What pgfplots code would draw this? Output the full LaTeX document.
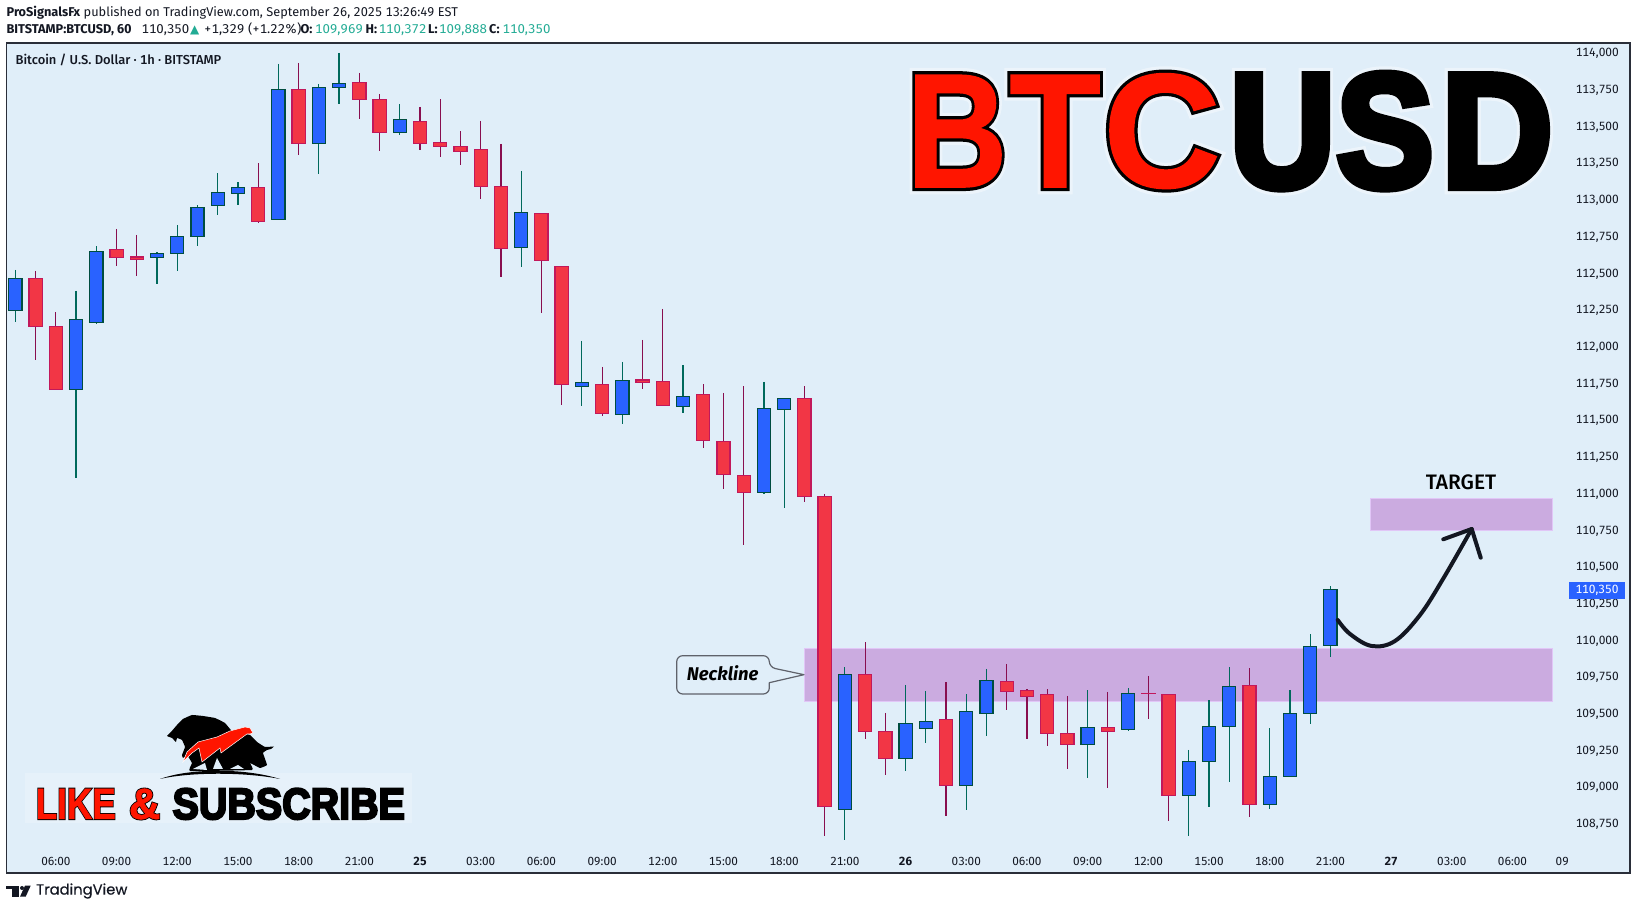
\documentclass[border=0pt]{standalone}
\usepackage{fontspec}
\usepackage{pgfplots}
\pgfplotsset{compat=1.18}
\setmainfont[Numbers=Monospaced]{Fira Sans}
\newfontfamily\medfont[Numbers=Monospaced]{Fira Sans Medium}
\newfontfamily\widefont[Numbers=Monospaced,FakeStretch=1.04]{Fira Sans}
\newfontfamily\symfont{DejaVu Sans}
\newfontfamily\tvfont[FakeBold=.4]{Poppins}
\newfontfamily\heavy[FakeBold=1]{Liberation Sans Bold}
\newfontfamily\heavyb[FakeBold=5]{Liberation Sans Bold}
\newfontfamily\heavyg[FakeBold=9]{Liberation Sans Bold}

\definecolor{bgc}{HTML}{E0EEF9}
\definecolor{frame}{HTML}{2A2E39}
\definecolor{ink}{HTML}{131722}
\definecolor{upfill}{HTML}{2962FF}
\definecolor{upedge}{HTML}{004D40}
\definecolor{upwick}{HTML}{00695C}
\definecolor{dnfill}{HTML}{F23645}
\definecolor{dnedge}{HTML}{C2185B}
\definecolor{dnwick}{HTML}{880E4F}
\definecolor{zone}{HTML}{CBABE0}
\definecolor{zoneedge}{HTML}{E1C6F7}
\definecolor{quote}{HTML}{22AB94}
\definecolor{bigred}{HTML}{FF1500}

% one candle: index, high, body top, body bottom, low
\newcommand{\candle}[8]{%
  \pgfmathsetmacro\cxl{#1-0.325}\pgfmathsetmacro\cxr{#1+0.325}%
  \addplot[draw=#6, line width=1.2bp] coordinates {(#1,#2)(#1,#5)};
  \addplot[draw=#7, fill=#8, line width=1.2bp] coordinates {(\cxl,#3)(\cxr,#3)(\cxr,#4)(\cxl,#4)} --cycle;
}
\newcommand{\up}[5]{\candle{#1}{#2}{#3}{#4}{#5}{upwick}{upedge}{upfill}}
\newcommand{\dn}[5]{\candle{#1}{#2}{#3}{#4}{#5}{dnwick}{dnedge}{dnfill}}
% big outlined letter: x centre, fill, x scale, letter
\newcommand{\bigletter}[4]{%
  \node[anchor=base, xscale=#3, text=white, opacity=.4, inner sep=0pt] at (#1,187) {\fontsize{163}{163}\heavyg #4};
  \node[anchor=base, xscale=#3, text=black, inner sep=0pt] at (#1,187) {\fontsize{163}{163}\heavyb #4};
  \node[anchor=base, xscale=#3, text=#2, inner sep=0pt] at (#1,187) {\fontsize{163}{163}\heavy #4};}
% one piece of the quote line, left edge at x
\newcommand{\hdr}[2]{\node[anchor=base west, inner sep=0pt, text=ink] at (#1,33.6) {\fontsize{12.8}{14}\selectfont #2};}

\begin{document}
\begin{tikzpicture}[x=1bp,y=1bp]
\path[use as bounding box] (0,0) rectangle (1637,910);
\begin{axis}[
    at={(6.5bp,37bp)}, anchor=south west,
    scale only axis, width=1623.5bp, height=830bp,
    xmin=-0.44, xmax=79.81, ymin=108419, ymax=114073,
    axis background/.style={fill=bgc},
    axis line style={draw=frame, line width=1.5bp},
    major tick length=0pt,
    tick style={draw=none},
    scaled y ticks=false,
    ytick={108750,109000,...,114000},
    yticklabel pos=right,
    yticklabel style={anchor=east, inner sep=0pt, xshift=-11bp,
      font=\fontsize{12}{14}\selectfont, text=ink,
      /pgf/number format/fixed, /pgf/number format/1000 sep={,},
      /pgf/number format/assume math mode=true},
    xtick={2,5,8,11,14,17,20,23,26,29,32,35,38,41,44,47,50,53,56,59,62,65,68,71,74,76.46},
    xticklabels={06:00,09:00,12:00,15:00,18:00,21:00,\textbf{25},03:00,06:00,09:00,12:00,15:00,18:00,21:00,\textbf{26},03:00,06:00,09:00,12:00,15:00,18:00,21:00,\textbf{27},03:00,06:00,09},
    xticklabel style={anchor=center, text height=9bp, text depth=0pt, yshift=12.5bp, font=\fontsize{11.8}{14}\selectfont, text=ink},
]
% zones
\addplot[fill=zone, draw=zoneedge, line width=1bp] coordinates {(39,109950)(76,109950)(76,109586)(39,109586)} --cycle;
\addplot[fill=zone, draw=zoneedge, line width=1bp] coordinates {(67,110971)(76,110971)(76,110751)(67,110751)} --cycle;
% candles
\up{0}{112527}{112470}{112249}{112174}
\dn{1}{112520}{112470}{112140}{111913}
\dn{2}{112240}{112143}{111711}{111711}
\up{3}{112384}{112191}{111711}{111112}
\up{4}{112690}{112654}{112168}{112159}
\dn{5}{112806}{112668}{112610}{112556}
\dn{6}{112765}{112615}{112597}{112488}
\up{7}{112647}{112640}{112610}{112433}
\up{8}{112833}{112756}{112638}{112522}
\up{9}{112969}{112954}{112753}{112690}
\up{10}{113187}{113056}{112965}{112903}
\up{11}{113126}{113090}{113046}{112971}
\dn{12}{113255}{113090}{112856}{112849}
\up{13}{113930}{113757}{112869}{112869}
\dn{14}{113937}{113757}{113387}{113310}
\up{15}{113794}{113771}{113387}{113181}
\up{16}{114005}{113798}{113768}{113657}
\dn{17}{113869}{113805}{113687}{113555}
\dn{18}{113725}{113689}{113462}{113337}
\up{19}{113657}{113553}{113462}{113446}
\dn{20}{113637}{113540}{113387}{113344}
\dn{21}{113691}{113396}{113366}{113296}
\dn{22}{113473}{113369}{113332}{113242}
\dn{23}{113542}{113349}{113094}{113010}
\dn{24}{113385}{113097}{112672}{112479}
\up{25}{113201}{112920}{112678}{112547}
\dn{26}{112913}{112913}{112590}{112236}
\dn{27}{112552}{112552}{111745}{111607}
\up{28}{112043}{111762}{111732}{111600}
\dn{29}{111866}{111748}{111548}{111532}
\up{30}{111900}{111775}{111541}{111477}
\dn{31}{112050}{111777}{111759}{111716}
\dn{32}{112261}{111768}{111602}{111602}
\up{33}{111879}{111666}{111595}{111552}
\dn{34}{111750}{111680}{111364}{111314}
\dn{35}{111689}{111360}{111132}{111035}
\dn{36}{111736}{111128}{111009}{110653}
\up{37}{111764}{111584}{111009}{111001}
\up{38}{111653}{111653}{111575}{110905}
\dn{39}{111736}{111653}{110982}{110946}
\dn{40}{111001}{110985}{108871}{108671}
\up{41}{109822}{109772}{108850}{108644}
\dn{42}{109992}{109772}{109381}{109332}
\dn{43}{109509}{109384}{109198}{109086}
\up{44}{109700}{109439}{109198}{109114}
\up{45}{109659}{109452}{109402}{109304}
\dn{46}{109720}{109466}{109014}{108807}
\up{47}{109638}{109520}{109014}{108848}
\up{48}{109809}{109732}{109504}{109352}
\dn{49}{109843}{109725}{109654}{109529}
\dn{50}{109672}{109663}{109620}{109332}
\dn{51}{109672}{109636}{109368}{109284}
\dn{52}{109625}{109370}{109293}{109127}
\up{53}{109665}{109411}{109293}{109066}
\dn{54}{109652}{109411}{109381}{108998}
\up{55}{109679}{109643}{109395}{109386}
\dn{56}{109761}{109643}{109640}{109468}
\dn{57}{109636}{109636}{108945}{108773}
\up{58}{109257}{109180}{108945}{108671}
\up{59}{109597}{109418}{109177}{108868}
\up{60}{109822}{109691}{109415}{109041}
\dn{61}{109815}{109697}{108884}{108800}
\up{62}{109405}{109078}{108884}{108855}
\up{63}{109665}{109507}{109075}{109075}
\up{64}{110047}{109963}{109504}{109434}
\up{65}{110372}{110350}{109969}{109888}
\end{axis}
% everything below is annotation, in pixels from the top left
\begin{scope}[yshift=910bp, y=-1bp]
% header
\node[anchor=base west, inner sep=0pt, text=ink] at (6.4,16.6) {\fontsize{12.8}{14}\selectfont\textbf{ProSignalsFx} published on TradingView.com, September 26, 2025 13:26:49 EST};
\node[anchor=base west, inner sep=0pt, text=ink] at (6.4,33.6) {\fontsize{12.8}{14}\selectfont\textbf{BITSTAMP:BTCUSD, 60}};
\hdr{141.4}{\widefont 110,350}
\node[anchor=base west, inner sep=0pt, text=quote] at (190,33.6) {\symfont\fontsize{12}{14}\selectfont ▲};
\hdr{204}{\widefont +1,329 (+1.22\%)}
\hdr{300.4}{\textbf{O:}}
\hdr{315}{\color{quote}\widefont 109,969}
\hdr{365.4}{\textbf{H:}}
\hdr{378.6}{\color{quote}\widefont 110,372}
\hdr{428}{\textbf{L:}}
\hdr{439}{\color{quote}\widefont 109,888}
\hdr{489}{\textbf{C:}}
\hdr{502.5}{\color{quote}\widefont 110,350}
\node[anchor=west, inner sep=0pt, text=ink] at (15.4,60.3) {\fontsize{13}{15}\medfont Bitcoin / U.S. Dollar · 1h · BITSTAMP};
% last price tag
\fill[upfill] (1569,582) rectangle (1625,599);
\node[inner sep=0pt, text=white] at (1597,590.5) {\fontsize{12}{14}\selectfont 110,350};
% title
\bigletter{957}{bigred}{.86}{B}
\bigletter{1055}{bigred}{.92}{T}
\bigletter{1162}{bigred}{1}{C}
\bigletter{1282.5}{black}{.9}{U}
\bigletter{1385}{black}{.9}{S}
\bigletter{1497}{black}{.95}{D}
% target and neckline
\node[inner sep=0pt, text=black] at (1461,482.3) {\fontsize{21}{23}\medfont TARGET};
\draw[ink, line width=4bp, line cap=round, line join=round]
  plot[smooth, tension=.6] coordinates {(1337.7,620)(1350,634)(1371.7,646)(1395,641)(1420,615)(1443,579)(1471.7,529)};
\draw[ink, line width=4bp, line cap=round, line join=round] (1443.3,539.3) -- (1471.7,529) -- (1480.7,557.7);
\draw[fill=bgc, draw=frame!75, line width=1.2bp, line join=round]
  [rounded corners=6bp] (676.7,675) |- (769.3,655.7) -- (769.3,667.3)
  [sharp corners] -- (804,674.7) -- (769.3,682.7)
  [rounded corners=6bp] -- (769.3,694) -- (676.7,694) -- (676.7,675) [sharp corners] -- cycle;
\node[inner sep=0pt, text=black] at (722.7,673.3) {\fontsize{18.5}{20}\selectfont\bfseries\itshape Neckline};
% like and subscribe
\fill[white, opacity=.2] (25,773) rectangle (412,823);
\fill[black] plot[smooth cycle, tension=.15] coordinates {(167,736)(171,732)(177,725)(183,719)(192,715)(203,716)(215,718)(225,723)(232,731)(250,735)(257,742)(265,747)(274,746.5)(271,749)(267,750)(263,753)(267,765)(260,768)(250,763)(252,770)(190,771)(192,763)(187,755)(183,758)(182,755)(185,747)(182,740)(177,738)(176,742)(172,738)};
\fill[bgc] (193,769) -- (205,763) -- (207,770) -- cycle;
\fill[bgc] (213,769) -- (217,758) -- (223,769) -- cycle;
\fill[bgc] (230,769) -- (238,765) -- (244,769) -- cycle;
\fill[bigred, draw=white, line width=.5bp] (183,762) -- (187,752) -- (198,742) -- (217,737) -- (230,731) -- (245,727) -- (250,728) -- (253,733) -- (250,734) -- (247,734) -- (221,753) -- (220,748) -- (202,762) -- (199,748) -- (192,753) -- cycle;
\fill[black] (160,779) .. controls (190,768) and (245,768) .. (280,779) .. controls (245,772) and (190,772) .. (160,779) -- cycle;
\node[anchor=base west, xscale=.8, inner sep=0pt, text=black] at (35.7,819) {\fontsize{44}{44}\heavyb LIKE};
\node[anchor=base west, xscale=.8, inner sep=0pt, text=bigred] at (35.7,819) {\fontsize{44}{44}\heavy LIKE};
\node[anchor=base west, inner sep=0pt, text=black] at (128.6,819) {\fontsize{44}{44}\heavyb\&};
\node[anchor=base west, inner sep=0pt, text=bigred] at (128.6,819) {\fontsize{44}{44}\heavy\&};
\node[anchor=base west, xscale=.9, inner sep=0pt, text=black] at (172.4,819) {\fontsize{44}{44}\heavyb SUBSCRIBE};
% footer logo
\fill[ink] (6,885.7) rectangle (19.3,889.3);
\fill[ink] (11.7,889.3) rectangle (19.3,896.7);
\fill[ink] (22,888) circle (2bp);
\fill[ink] (20,896.7) -- (25,885.7) -- (30.7,885.7) -- (25.7,896.7) -- cycle;
\node[anchor=west, inner sep=0pt, text=ink] at (36,891) {\fontsize{14.8}{17}\tvfont TradingView};
\end{scope}
\end{tikzpicture}
\end{document}
